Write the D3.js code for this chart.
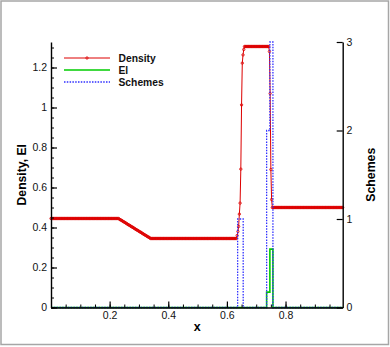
<!DOCTYPE html>
<html><head><meta charset="utf-8">
<script src="https://cdn.jsdelivr.net/npm/d3@7"></script>
<style>html,body{margin:0;padding:0;background:#fff;} svg{display:block;}</style>
</head><body>
<svg id="chart" width="390" height="347"></svg>
<script>
// ---- data ----
const gridStart = 0, gridStep = 0.0025;   // cell positions of the density samples
const densityValues = [
0.445,0.445,0.445,0.445,0.445,0.445,0.445,0.445,0.445,0.445,
0.445,0.445,0.445,0.445,0.445,0.445,0.445,0.445,0.445,0.445,
0.445,0.445,0.445,0.445,0.445,0.445,0.445,0.445,0.445,0.445,
0.445,0.445,0.445,0.445,0.445,0.445,0.445,0.445,0.445,0.445,
0.445,0.445,0.445,0.445,0.445,0.445,0.445,0.445,0.445,0.445,
0.445,0.445,0.445,0.445,0.445,0.445,0.445,0.445,0.445,0.445,
0.445,0.445,0.445,0.445,0.445,0.445,0.445,0.445,0.445,0.445,
0.445,0.445,0.445,0.445,0.445,0.445,0.445,0.445,0.445,0.445,
0.445,0.445,0.445,0.445,0.445,0.445,0.445,0.445,0.445,0.445,
0.445,0.445,0.445,
0.443,0.440,0.438,0.436,0.434,0.431,0.429,0.427,0.425,0.422,
0.420,0.418,0.415,0.413,0.411,0.409,0.406,0.404,0.402,0.400,
0.397,0.395,0.393,0.390,0.388,0.386,0.384,0.381,0.379,0.377,
0.375,0.372,0.370,0.368,0.365,0.363,0.361,0.359,0.356,0.354,
0.352,0.350,0.347,
0.345,0.345,0.345,0.345,0.345,0.345,0.345,0.345,0.345,0.345,
0.345,0.345,0.345,0.345,0.345,0.345,0.345,0.345,0.345,0.345,
0.345,0.345,0.345,0.345,0.345,0.345,0.345,0.345,0.345,0.345,
0.345,0.345,0.345,0.345,0.345,0.345,0.345,0.345,0.345,0.345,
0.345,0.345,0.345,0.345,0.345,0.345,0.345,0.345,0.345,0.345,
0.345,0.345,0.345,0.345,0.345,0.345,0.345,0.345,0.345,0.345,
0.345,0.345,0.345,0.345,0.345,0.345,0.345,0.345,0.345,0.345,
0.345,0.345,0.345,0.345,0.345,0.345,0.345,0.345,0.345,0.345,
0.345,0.345,0.345,0.345,0.345,0.345,0.345,0.345,0.345,0.345,
0.345,0.345,0.345,0.345,0.345,0.345,0.345,0.345,0.345,0.345,
0.345,0.345,0.345,0.345,0.345,0.345,0.345,0.345,0.345,0.345,
0.345,0.345,0.345,0.345,0.345,0.345,0.345,0.345,
0.360,0.380,0.405,0.467,0.522,0.692,1.013,1.222,1.263,1.290,
1.305,1.305,1.305,1.305,1.305,1.305,1.305,1.305,1.305,1.305,
1.305,1.305,1.305,1.305,1.305,1.305,1.305,1.305,1.305,1.305,
1.305,1.305,1.305,1.305,1.305,1.305,1.305,1.305,1.305,1.305,
1.305,1.305,1.305,1.305,
1.280,1.070,0.690,0.540,
0.5,0.5,0.5,0.5,0.5,0.5,0.5,0.5,0.5,0.5,
0.5,0.5,0.5,0.5,0.5,0.5,0.5,0.5,0.5,0.5,
0.5,0.5,0.5,0.5,0.5,0.5,0.5,0.5,0.5,0.5,
0.5,0.5,0.5,0.5,0.5,0.5,0.5,0.5,0.5,0.5,
0.5,0.5,0.5,0.5,0.5,0.5,0.5,0.5,0.5,0.5,
0.5,0.5,0.5,0.5,0.5,0.5,0.5,0.5,0.5,0.5,
0.5,0.5,0.5,0.5,0.5,0.5,0.5,0.5,0.5,0.5,
0.5,0.5,0.5,0.5,0.5,0.5,0.5,0.5,0.5,0.5,
0.5,0.5,0.5,0.5,0.5,0.5,0.5,0.5,0.5,0.5,
0.5,0.5,0.5,0.5,0.5,0.5,0.5
];
// step series: value holds from each x until the next x
const elX = [0, 0.7355, 0.7466, 0.7570, 0.995];
const elValues = [0, 0.077, 0.292, 0, 0];
const schemesX = [0, 0.6366, 0.6556, 0.7355, 0.7466, 0.7570, 0.995];
const schemesValues = [0, 1, 0, 2, 3, 0, 0];

const xTicks = [0.2, 0.4, 0.6, 0.8];
const xTickLabels = ["0.2", "0.4", "0.6", "0.8"];
const yLeftTicks = [0, 0.2, 0.4, 0.6, 0.8, 1, 1.2];
const yLeftTickLabels = ["0", "0.2", "0.4", "0.6", "0.8", "1", "1.2"];
const yRightTicks = [0, 1, 2, 3];
const yRightTickLabels = ["0", "1", "2", "3"];
const legendNames = ["Density", "El", "Schemes"];

// ---- drawing ----
const svg = d3.select("#chart");
const W = 390, H = 347;
const L = 51, R = 342.7, T = 42, B = 307.5;

svg.append("rect").attr("x", 0).attr("y", 0).attr("width", W).attr("height", H).attr("fill", "#fff");
svg.append("rect").attr("x", 1).attr("y", 1).attr("width", 387.5).attr("height", 343.5)
  .attr("fill", "none").attr("stroke", "#a6a6a6").attr("stroke-width", 1.5);

const x = d3.scaleLinear().domain([0, 0.995]).range([L, R]);
const yL = d3.scaleLinear().domain([0, 1.3275]).range([B, T]);
const yR = d3.scaleLinear().domain([0, 3]).range([B, T]);

const densityData = densityValues.map((v, i) => ({ x: gridStart + i * gridStep, y: v }));
const elData = elX.map((v, i) => ({ x: v, y: elValues[i] }));
const schemesData = schemesX.map((v, i) => ({ x: v, y: schemesValues[i] }));

const red = "#dd0000", green = "#00cc00", blue = "#2f2fff";

const gData = svg.append("g");
// density
gData.append("path").datum(densityData)
  .attr("fill", "none").attr("stroke", red).attr("stroke-width", 1)
  .attr("d", d3.line().x(d => x(d.x)).y(d => yL(d.y)));
gData.append("g").selectAll("circle").data(densityData).join("circle")
  .attr("cx", d => x(d.x)).attr("cy", d => yL(d.y)).attr("r", 1.2)
  .attr("fill", "none").attr("stroke", red).attr("stroke-width", 0.8);
// El
gData.append("path").datum(elData)
  .attr("fill", "none").attr("stroke", green).attr("stroke-width", 1.6)
  .attr("d", d3.line().curve(d3.curveStepAfter).x(d => x(d.x)).y(d => yL(d.y)));
// Schemes
gData.append("path").datum(schemesData)
  .attr("fill", "none").attr("stroke", blue).attr("stroke-width", 1.3)
  .attr("stroke-dasharray", "1.5,1.3")
  .attr("d", d3.line().curve(d3.curveStepAfter).x(d => x(d.x)).y(d => yR(d.y)));

// axes
function styleAxis(g) {
  g.selectAll(".domain").attr("stroke", "#000").attr("stroke-width", 1.4);
  g.selectAll(".tick line").attr("stroke", "#000").attr("stroke-width", 1.2);
  g.selectAll(".tick text").attr("fill", "#111")
    .style("font-family", "'Liberation Sans', Arial, Helvetica, sans-serif").style("font-size", "10.5px");
}
// minor ticks
const xMinor = d3.range(0, 0.99, 0.05);
const yMinor = d3.range(0, 1.32, 0.05);
svg.append("g").attr("transform", `translate(0,${B})`)
  .call(d3.axisBottom(x).tickValues(xMinor).tickSize(-3).tickFormat(""))
  .call(g => g.select(".domain").remove())
  .call(g => g.selectAll(".tick line").attr("stroke", "#000").attr("stroke-width", 1));
svg.append("g").attr("transform", `translate(${L},0)`)
  .call(d3.axisLeft(yL).tickValues(yMinor).tickSize(-3).tickFormat(""))
  .call(g => g.select(".domain").remove())
  .call(g => g.selectAll(".tick line").attr("stroke", "#000").attr("stroke-width", 1));

svg.append("g").attr("transform", `translate(0,${B})`)
  .call(d3.axisBottom(x).tickValues(xTicks).tickSize(-6).tickSizeOuter(0).tickPadding(4.5)
    .tickFormat((d, i) => xTickLabels[i]))
  .call(styleAxis);
svg.append("g").attr("transform", `translate(${L},0)`)
  .call(d3.axisLeft(yL).tickValues(yLeftTicks).tickSize(-6).tickSizeOuter(0).tickPadding(4)
    .tickFormat((d, i) => yLeftTickLabels[i]))
  .call(styleAxis);
svg.append("g").attr("transform", `translate(${R},0)`)
  .call(d3.axisRight(yR).tickValues(yRightTicks).tickSize(-6).tickSizeOuter(0).tickPadding(3.8)
    .tickFormat((d, i) => yRightTickLabels[i]))
  .call(styleAxis);

// titles
const titleFont = "'Liberation Sans', Arial, Helvetica, sans-serif";
svg.append("text").attr("x", (L + R) / 2 + 0.5).attr("y", 330.5).attr("text-anchor", "middle")
  .style("font-family", titleFont).style("font-weight", "bold").style("font-size", "12.5px").text("x");
svg.append("text").attr("transform", `translate(26,${(T + B) / 2}) rotate(-90)`).attr("text-anchor", "middle")
  .style("font-family", titleFont).style("font-weight", "bold").style("font-size", "12.2px").text("Density, El");
svg.append("text").attr("transform", `translate(375,${(T + B) / 2}) rotate(-90)`).attr("text-anchor", "middle")
  .style("font-family", titleFont).style("font-weight", "bold").style("font-size", "12.3px").text("Schemes");

// legend
const legY = [58, 70, 82];
const lg = svg.append("g");
lg.append("line").attr("x1", 64).attr("x2", 110).attr("y1", legY[0]).attr("y2", legY[0])
  .attr("stroke", red).attr("stroke-width", 1);
lg.append("circle").attr("cx", 87).attr("cy", legY[0]).attr("r", 1.2)
  .attr("fill", "none").attr("stroke", red).attr("stroke-width", 0.8);
lg.append("line").attr("x1", 64).attr("x2", 110).attr("y1", legY[1]).attr("y2", legY[1])
  .attr("stroke", green).attr("stroke-width", 1.6);
lg.append("line").attr("x1", 64).attr("x2", 110).attr("y1", legY[2]).attr("y2", legY[2])
  .attr("stroke", blue).attr("stroke-width", 1.3).attr("stroke-dasharray", "1.5,1.3");
lg.selectAll("text").data(legendNames).join("text")
  .attr("x", 118.5).attr("y", (d, i) => legY[i] + 3.7)
  .style("font-family", titleFont).style("font-weight", "bold").style("font-size", "10.3px")
  .attr("fill", "#111").text(d => d);
</script>
</body></html>
